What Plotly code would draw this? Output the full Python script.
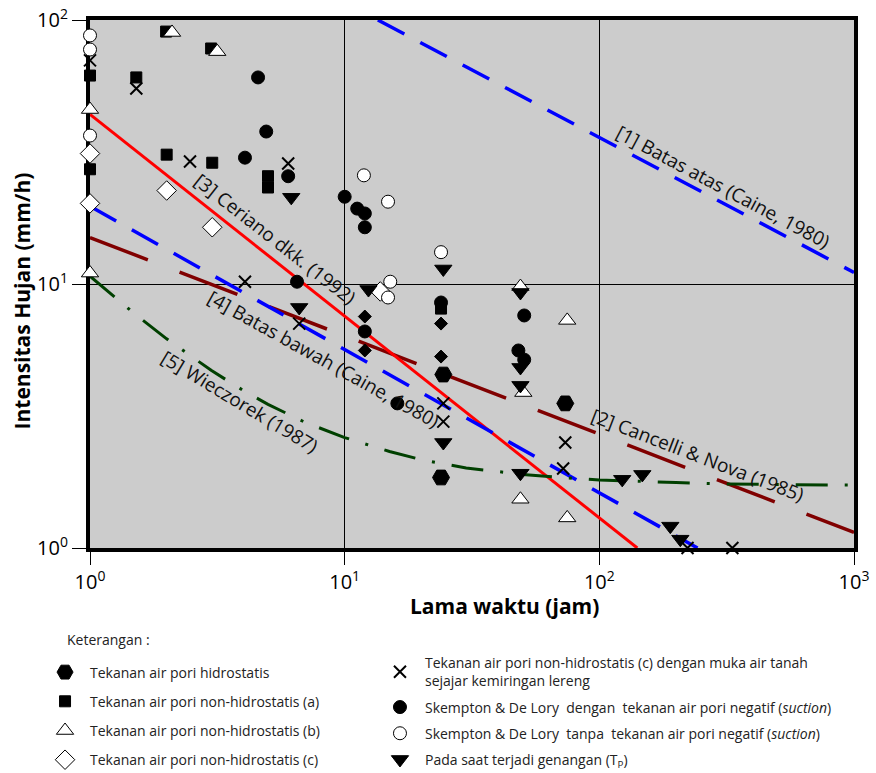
import numpy as np
import plotly.graph_objects as go

# ---------------- data (duration D in hours, intensity I in mm/h) ----------------
hex_D = [24.4, 73.5, 23.9]
hex_I = [4.54, 3.53, 1.85]

sq_D = [1, 1, 1.99, 1.52, 2.0, 2.99, 3.02, 5.0, 5.0, 23.9]
sq_I = [61.6, 27.2, 90.4, 60.6, 30.9, 78.0, 28.8, 25.6, 23.2, 8.07]

tri_D = [1, 1, 2.1, 3.16, 49, 74.8, 50.3, 49, 74.8]
tri_I = [45.8, 11.0, 89.7, 75.9, 9.78, 7.28, 3.88, 1.53, 1.30]

dia_D = [1, 1, 2.0, 3.02, 13.8]
dia_I = [31.2, 20.2, 22.6, 16.4, 9.37]

x_D = [1, 1.52, 2.47, 6.0, 4.06, 6.63, 24.4, 24.4, 73.5, 72.1, 222, 333]
x_I = [70.3, 55.0, 29.1, 28.6, 10.2, 7.08, 3.53, 3.01, 2.51, 2.0, 1.0, 1.0]

fc_D = [4.57, 4.92, 4.06, 6.0, 10.0, 11.2, 12.0, 12.0, 6.5, 12.0, 23.9, 50.7, 48.1, 50.7, 16.1]
fc_I = [60.6, 37.8, 30.1, 25.6, 21.4, 19.3, 18.5, 16.4, 10.2, 6.61, 8.51, 7.6, 5.6, 5.17, 3.53]

oc_D = [1, 1, 1, 11.9, 14.8, 23.9, 15.1, 14.8]
oc_I = [87.4, 77.3, 36.5, 25.8, 20.5, 13.2, 10.2, 8.89]

td_D = [6.17, 6.63, 12.4, 24.4, 24.4, 49, 49, 49, 49, 123, 147.5, 190, 208]
td_I = [21.3, 8.15, 9.53, 11.4, 2.51, 9.29, 4.83, 4.13, 1.92, 1.82, 1.90, 1.21, 1.08]

sd_D = [12.0, 12.0, 23.9, 23.9]
sd_I = [7.53, 5.6, 7.08, 5.31]

# threshold lines
l1_D = [13.5, 1000]; l1_I = [100, 11.05]          # [1] Batas atas
l2_D = [1, 1000];    l2_I = [15.0, 1.145]         # [2] Cancelli & Nova
l3_D = [1, 141];     l3_I = [43.9, 1.0]           # [3] Ceriano dkk.
l4_D = [1, 243];     l4_I = [19.7, 1.0]           # [4] Batas bawah
l5_D = [1, 1.5, 2, 3, 4, 5, 7, 10, 15, 20, 30, 50, 70, 100, 200, 300, 500, 1000]
l5_I = [10.7, 7.7, 6.2, 4.7, 3.95, 3.5, 2.99, 2.62, 2.32, 2.16, 2.01, 1.9, 1.85, 1.81, 1.77, 1.75, 1.74, 1.73]

labels = ["[1] Batas atas (Caine, 1980)", "[2] Cancelli & Nova (1985)",
          "[3] Ceriano dkk. (1992)", "[4] Batas bawah (Caine, 1980)", "[5] Wieczorek (1987)"]
label_D = [307, 243, 5.33, 8.23, 3.88]
label_I = [23.4, 2.26, 14.8, 5.18, 3.56]
label_angle = [28, 21, 38, 29, 31]

tick_vals_x = [1, 10, 100, 1000]
tick_text_x = ["10<sup>0</sup>", "10<sup>1</sup>", "10<sup>2</sup>", "10<sup>3</sup>"]
tick_vals_y = [1, 10, 100]
tick_text_y = ["10<sup>0</sup>", "10<sup>1</sup>", "10<sup>2</sup>"]

FONT = "Open Sans"

# ---------------- figure ----------------
fig = go.Figure()

def line(D, I, color, dash, width=3.5):
    fig.add_trace(go.Scatter(x=D, y=I, mode="lines", showlegend=False, hoverinfo="skip",
                             line=dict(color=color, dash=dash, width=width)))

line(l1_D, l1_I, "#0000ff", "30px,18px")
line(l2_D, l2_I, "#800000", "62px,34px")
line(l3_D, l3_I, "#ff0000", "solid", 3)
line(l4_D, l4_I, "#0000ff", "30px,18px")
line(l5_D, l5_I, "#004000", "32px,17px,3px,17px", 3)

def pts(D, I, name, symbol, size, color, legend_id, lcolor="black", lw=1, show=True):
    fig.add_trace(go.Scatter(x=D, y=I, mode="markers", name=name, showlegend=show,
                             legend=legend_id, legendgroup=name, cliponaxis=False,
                             marker=dict(symbol=symbol, size=size, color=color,
                                         line=dict(color=lcolor, width=lw))))

# left legend column
pts(hex_D, hex_I, "Tekanan air pori hidrostatis", "hexagon2", 17, "black", "legend")
pts(sq_D, sq_I, "Tekanan air pori non-hidrostatis (a)", "square", 11, "black", "legend")
pts(tri_D, tri_I, "Tekanan air pori non-hidrostatis (b)", "triangle-up", 15, "white", "legend")
pts(dia_D, dia_I, "Tekanan air pori non-hidrostatis (c)", "diamond", 15, "white", "legend")
# right legend column
pts(x_D, x_I, "Tekanan air pori non-hidrostatis (c) dengan muka air tanah<br>sejajar kemiringan lereng",
    "x-thin", 12, "black", "legend2", "black", 2)
pts(fc_D, fc_I, "Skempton & De Lory  dengan  tekanan air pori negatif (<i>suction</i>)", "circle", 13, "black", "legend2")
pts(oc_D, oc_I, "Skempton & De Lory  tanpa  tekanan air pori negatif (<i>suction</i>)", "circle", 13, "white", "legend2")
pts(td_D, td_I, "Pada saat terjadi genangan (T<sub>P</sub>)", "triangle-down", 15, "black", "legend2")
pts(sd_D, sd_I, "small", "diamond", 10, "black", "legend", show=False)

for t, d, i, a in zip(labels, label_D, label_I, label_angle):
    fig.add_annotation(x=np.log10(d), y=np.log10(i), text=t, textangle=a, showarrow=False,
                       font=dict(family=FONT, size=19, color="#111111"))

# axis titles and legend heading
fig.add_annotation(xref="paper", yref="paper", x=0.543, y=-0.109, text="<b>Lama waktu (jam)</b>",
                   showarrow=False, xanchor="center", yanchor="middle",
                   font=dict(family=FONT, size=21, color="black"))
fig.add_annotation(xref="paper", yref="paper", x=-0.089, y=0.467, text="<b>Intensitas Hujan (mm/h)</b>",
                   showarrow=False, textangle=-90, xanchor="center", yanchor="middle",
                   font=dict(family=FONT, size=21, color="black"))
fig.add_annotation(xref="paper", yref="paper", x=-0.0327, y=-0.1733, text="Keterangan :",
                   showarrow=False, xanchor="left", yanchor="middle",
                   font=dict(family=FONT, size=14, color="#222222"))

axis_common = dict(type="log", showline=True, linewidth=4, linecolor="black", mirror=True,
                   showgrid=True, gridcolor="black", gridwidth=1, ticks="outside",
                   tickcolor="black", tickwidth=1, zeroline=False, layer="below traces",
                   automargin=False, ticklabeloverflow="allow",
                   tickfont=dict(family=FONT, size=20, color="black"))

fig.update_xaxes(range=[0, 3], tickvals=tick_vals_x, ticktext=tick_text_x, ticklen=13, **axis_common)
fig.update_yaxes(range=[0, 2], tickvals=tick_vals_y, ticktext=tick_text_y, ticklen=14, **axis_common)

legend_common = dict(orientation="v", xanchor="left", yanchor="top", traceorder="grouped",
                     itemsizing="trace", itemwidth=40, bgcolor="rgba(0,0,0,0)",
                     font=dict(family=FONT, size=14, color="#222222"))

fig.update_layout(
    width=876, height=773,
    margin=dict(l=90, r=22, t=20, b=225, autoexpand=False),
    plot_bgcolor="#cccccc", paper_bgcolor="white",
    legend=dict(x=-0.0654, y=-0.2055, tracegroupgap=8, **legend_common),
    legend2=dict(x=0.373, y=-0.1876, tracegroupgap=5, **legend_common),
)

# remove the browser's default 8px page margin so the figure fills the window
fig.write_html("out.html", config={"displayModeBar": False},
               post_script="document.body.style.margin='0px';")
